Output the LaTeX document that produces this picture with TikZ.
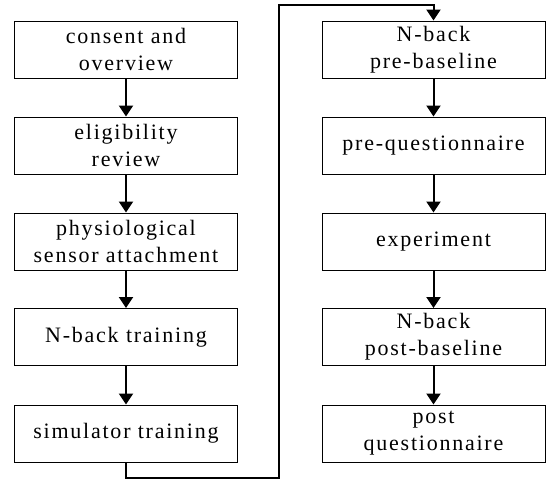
\documentclass[tikz,border=0pt]{standalone}
\usepackage{fontspec}
\setmainfont{Liberation Serif}
\newfontfamily\spacedserif{Liberation Serif}[LetterSpace=8]
\usetikzlibrary{arrows.meta}

\begin{document}
\begin{tikzpicture}[x=1pt,y=1pt,
  stage/.style={shape=rectangle, draw, line width=0.9pt, minimum width=223pt, minimum height=57pt,
    inner sep=0pt, align=center, font=\spacedserif\fontsize{22}{27}\selectfont},
  flow/.style={-{Triangle[length=11pt,width=14pt]}, line width=2pt}]
\useasboundingbox (0,0) rectangle (546,481);
%%% left column
\node[stage] (consent) at (126,431.5) {consent and\\overview};
\node[stage] (elig) at (126,335.5) {eligibility\\review};
\node[stage] (sensor) at (126,239.5) {physiological\\sensor attachment};
\node[stage] (nbtrain) at (126,144) {N-back training};
\node[stage] (sim) at (126,47.5) {simulator training};
%%% right column
\node[stage] (prebase) at (433.5,431.5) {N-back\\pre-baseline};
\node[stage] (preq) at (433.5,335.5) {pre-questionnaire};
\node[stage] (exper) at (433.5,239.5) {experiment};
\node[stage] (postbase) at (433.5,144) {N-back\\post-baseline};
\node[stage] (postq) at (433.5,47.5) {post\\questionnaire};

\coordinate (lowturn) at (279,3);
\coordinate (highturn) at (279,476);

\draw[flow] (consent)--(elig);
\draw[flow] (elig)--(sensor);
\draw[flow] (sensor)--(nbtrain);
\draw[flow] (nbtrain)--(sim);
\draw[flow] (sim.south) |- (lowturn) -- (highturn) -| (prebase.north);
\draw[flow] (prebase)--(preq);
\draw[flow] (preq)--(exper);
\draw[flow] (exper)--(postbase);
\draw[flow] (postbase)--(postq);

\end{tikzpicture}
\end{document}
